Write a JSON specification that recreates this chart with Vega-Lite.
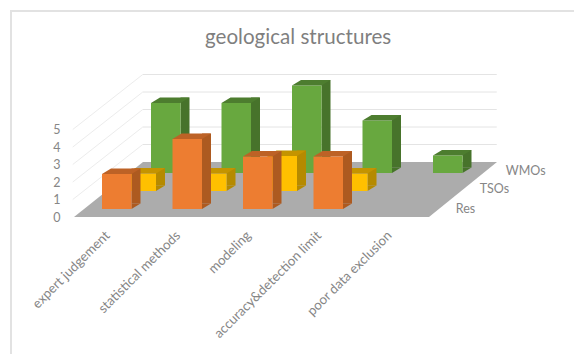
{
  "$schema": "https://vega.github.io/schema/vega-lite/v6.json",
  "autosize": {"type": "none"},
  "padding": {"left": 11, "top": 11, "right": 0, "bottom": 0},
  "width": 580,
  "height": 360,
  "background": "#ffffff",
  "view": {"stroke": "#e2e2e2", "strokeWidth": 2, "fill": "#ffffff"},
  "title": {"text": "geological structures", "anchor": "start", "dx": 194, "dy": 42, "font": "Lato", "fontSize": 20.6, "fontWeight": "normal", "color": "#7f7f7f"},
  "config": {"font": "Lato"},
  "datasets": {
    "scores": [
      {"category": "expert judgement", "series": "WMOs", "value": 4},
      {"category": "statistical methods", "series": "WMOs", "value": 4},
      {"category": "modeling", "series": "WMOs", "value": 5},
      {"category": "accuracy&detection limit", "series": "WMOs", "value": 3},
      {"category": "poor data exclusion", "series": "WMOs", "value": 1},
      {"category": "expert judgement", "series": "TSOs", "value": 1},
      {"category": "statistical methods", "series": "TSOs", "value": 1},
      {"category": "modeling", "series": "TSOs", "value": 2},
      {"category": "accuracy&detection limit", "series": "TSOs", "value": 1},
      {"category": "poor data exclusion", "series": "TSOs", "value": 0},
      {"category": "expert judgement", "series": "Res", "value": 2},
      {"category": "statistical methods", "series": "Res", "value": 4},
      {"category": "modeling", "series": "Res", "value": 3},
      {"category": "accuracy&detection limit", "series": "Res", "value": 3},
      {"category": "poor data exclusion", "series": "Res", "value": 0}
    ],
    "levels": [{"category": "expert judgement", "end": "poor data exclusion", "level": 1},
      {"category": "expert judgement", "end": "poor data exclusion", "level": 2},
      {"category": "expert judgement", "end": "poor data exclusion", "level": 3},
      {"category": "expert judgement", "end": "poor data exclusion", "level": 4},
      {"category": "expert judgement", "end": "poor data exclusion", "level": 5}],
    "floor": [{"category": "expert judgement", "level": 0}],
    "depthLabels": [{"category": "poor data exclusion", "level": 0, "series": "WMOs"}, {"category": "poor data exclusion", "level": 0, "series": "TSOs"}, {"category": "poor data exclusion", "level": 0, "series": "Res"}]
  },
  "encoding": {
    "x": {
      "field": "category",
      "type": "nominal",
      "sort": null,
      "title": null,
      "scale": {"type": "band", "range": [70.5, 423], "paddingInner": 0, "paddingOuter": 0, "domain": ["expert judgement", "statistical methods", "modeling", "accuracy&detection limit", "poor data exclusion"]},
      "axis": {"orient": "bottom", "offset": -138, "domain": false, "ticks": false, "labelAngle": -45, "labelAlign": "right", "labelBaseline": "middle", "labelOffset": -9, "labelPadding": 0, "labelFontSize": 13.3, "labelColor": "#868686", "labelFont": "Lato", "labelLimit": 300, "grid": false}
    },
    "y": {
      "field": "value",
      "type": "quantitative",
      "title": null,
      "scale": {"domain": [0, 5], "range": [206, 118.5], "nice": false},
      "axis": {"orient": "left", "offset": -49, "domain": false, "ticks": false, "values": [0, 1, 2, 3, 4, 5], "format": "d", "labelFontSize": 12.5, "labelColor": "#868686", "labelFont": "Lato", "labelPadding": 0, "grid": false}
    }
  },
  "layer": [
    {
      "data": {"name": "levels"},
      "mark": {"type": "rule", "stroke": "#e4e4e4", "strokeWidth": 1, "xOffset": 26, "x2Offset": 98, "yOffset": -55, "y2Offset": -55},
      "encoding": {"x2": {"field": "end"}, "y": {"field": "level", "type": "quantitative"}}
    },
    {
      "data": {"name": "levels"},
      "mark": {"type": "rule", "stroke": "#ececec", "strokeWidth": 1, "xOffset": -44, "x2Offset": 26, "y2Offset": -55},
      "encoding": {"x2": {"field": "category"}, "y": {"field": "level", "type": "quantitative"}, "y2": {"field": "level"}}
    },
    {
      "data": {"name": "floor"},
      "mark": {"type": "point", "filled": true, "opacity": 1, "size": 4, "color": "#acacac", "shape": "M-42.75,0L312.25,0L380.25,-55L26.25,-55Z"},
      "encoding": {"y": {"field": "level", "type": "quantitative"}}
    },

    {"transform": [{"filter": "datum.series === 'WMOs' && datum.value > 0"}],
     "mark": {"type": "bar", "width": 9, "color": "#47732b", "xOffset": 68.25, "yOffset": -49.5, "y2Offset": -49.5}},
    {"transform": [{"filter": "datum.series === 'WMOs' && datum.value > 0"}],
     "mark": {"type": "point", "filled": true, "opacity": 1, "size": 4, "color": "#47732b", "xOffset": 49, "yOffset": -44, "shape": "M14.75,0L23.75,-5.5L14.75,-5.5Z"},
     "encoding": {"y": {"datum": 0}}},
    {"transform": [{"filter": "datum.series === 'WMOs' && datum.value > 0"}],
     "mark": {"type": "bar", "width": 29.5, "color": "#68a83f", "xOffset": 49, "yOffset": -44, "y2Offset": -44}},
    {"transform": [{"filter": "datum.series === 'WMOs' && datum.value > 0"}],
     "mark": {"type": "point", "filled": true, "opacity": 1, "size": 4, "color": "#4d7d2f", "xOffset": 49, "yOffset": -44, "shape": "M-14.75,0L14.75,0L23.75,-5.5L-5.75,-5.5Z"}},

    {"transform": [{"filter": "datum.series === 'TSOs' && datum.value > 0"}],
     "mark": {"type": "bar", "width": 9, "color": "#b58a00", "xOffset": 43.75, "yOffset": -31.5, "y2Offset": -31.5}},
    {"transform": [{"filter": "datum.series === 'TSOs' && datum.value > 0"}],
     "mark": {"type": "point", "filled": true, "opacity": 1, "size": 4, "color": "#b58a00", "xOffset": 24.5, "yOffset": -26, "shape": "M14.75,0L23.75,-5.5L14.75,-5.5Z"},
     "encoding": {"y": {"datum": 0}}},
    {"transform": [{"filter": "datum.series === 'TSOs' && datum.value > 0"}],
     "mark": {"type": "bar", "width": 29.5, "color": "#ffc000", "xOffset": 24.5, "yOffset": -26, "y2Offset": -26}},
    {"transform": [{"filter": "datum.series === 'TSOs' && datum.value > 0"}],
     "mark": {"type": "point", "filled": true, "opacity": 1, "size": 4, "color": "#c49400", "xOffset": 24.5, "yOffset": -26, "shape": "M-14.75,0L14.75,0L23.75,-5.5L-5.75,-5.5Z"}},

    {"transform": [{"filter": "datum.series === 'Res' && datum.value > 0"}],
     "mark": {"type": "bar", "width": 9, "color": "#ad5a20", "xOffset": 19.25, "yOffset": -13.5, "y2Offset": -13.5}},
    {"transform": [{"filter": "datum.series === 'Res' && datum.value > 0"}],
     "mark": {"type": "point", "filled": true, "opacity": 1, "size": 4, "color": "#ad5a20", "yOffset": -8, "shape": "M14.75,0L23.75,-5.5L14.75,-5.5Z"},
     "encoding": {"y": {"datum": 0}}},
    {"transform": [{"filter": "datum.series === 'Res' && datum.value > 0"}],
     "mark": {"type": "bar", "width": 29.5, "color": "#ed7d31", "yOffset": -8, "y2Offset": -8}},
    {"transform": [{"filter": "datum.series === 'Res' && datum.value > 0"}],
     "mark": {"type": "point", "filled": true, "opacity": 1, "size": 4, "color": "#bd6226", "yOffset": -8, "shape": "M-14.75,0L14.75,0L23.75,-5.5L-5.75,-5.5Z"}},

    {
      "data": {"name": "depthLabels"},
      "transform": [{"filter": "datum.series === 'WMOs'"}],
      "mark": {"type": "text", "align": "left", "baseline": "middle", "fontSize": 12.5, "color": "#868686", "font": "Lato", "xOffset": 107, "yOffset": -46},
      "encoding": {"y": {"field": "level", "type": "quantitative"}, "text": {"field": "series"}}
    },
    {
      "data": {"name": "depthLabels"},
      "transform": [{"filter": "datum.series === 'TSOs'"}],
      "mark": {"type": "text", "align": "left", "baseline": "middle", "fontSize": 12.5, "color": "#868686", "font": "Lato", "xOffset": 81, "yOffset": -28},
      "encoding": {"y": {"field": "level", "type": "quantitative"}, "text": {"field": "series"}}
    },
    {
      "data": {"name": "depthLabels"},
      "transform": [{"filter": "datum.series === 'Res'"}],
      "mark": {"type": "text", "align": "left", "baseline": "middle", "fontSize": 12.5, "color": "#868686", "font": "Lato", "xOffset": 57, "yOffset": -8},
      "encoding": {"y": {"field": "level", "type": "quantitative"}, "text": {"field": "series"}}
    }
  ],
  "data": {"name": "scores"}
}
